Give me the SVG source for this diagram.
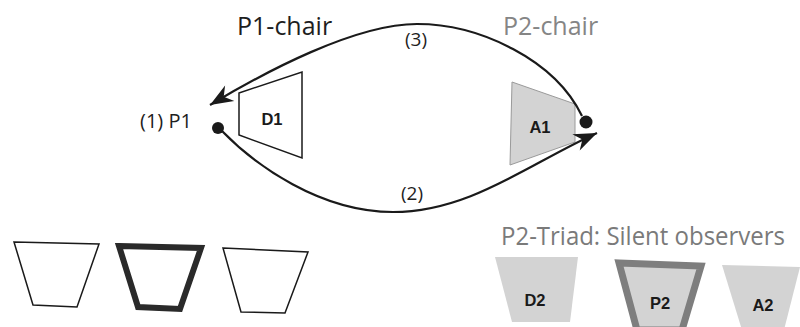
<svg xmlns="http://www.w3.org/2000/svg" width="800" height="327" viewBox="0 0 800 327">
  <style>
    .lbl { font-family: "Open Sans", "DejaVu Sans", sans-serif; fill: #1e1e1e; }
    .gray { fill: #858585; }
    .bold { font-family: "Liberation Sans", Arial, sans-serif; font-weight: bold; font-size: 16.5px; fill: #1a1a1a; text-anchor: middle; }
    .conn { fill: none; stroke: #1a1a1a; stroke-width: 2.2; }
    .open { fill: #ffffff; stroke: #1a1a1a; stroke-width: 1.5; stroke-linejoin: miter; }
    .shade { fill: #d3d3d3; }
  </style>
  <defs>
    <marker id="arrow" markerUnits="userSpaceOnUse" orient="auto" viewBox="-24 -10 26 20" markerWidth="26" markerHeight="20" refX="0" refY="0">
      <path d="M0,0 L-23,-9 L-16,0 L-23,9 Z" fill="#1a1a1a"/>
    </marker>
  </defs>
  <rect width="800" height="327" fill="#ffffff"/>

  <g id="node-D1">
    <polygon class="open" points="239,93 302,72 302,158 239,135"/>
    <text class="bold" x="272" y="125">D1</text>
  </g>
  <g id="node-A1">
    <polygon class="shade" points="512,82 575,104 575,142 510,165" stroke="#9a9a9a" stroke-width="1"/>
    <text class="bold" x="540" y="133">A1</text>
  </g>
  <g id="node-P1">
    <circle cx="218" cy="128" r="6" fill="#1a1a1a"/>
    <text class="lbl" x="140" y="128" font-size="20">(1) P1</text>
  </g>
  <g id="node-P2dot">
    <circle cx="586" cy="122" r="6.5" fill="#1a1a1a"/>
  </g>

  <g id="connectors">
    <path class="conn" d="M582,116 C555,60 480,24 417,24 C355,24 265,72 210,105" marker-end="url(#arrow)"/>
    <path class="conn" d="M222,131 C255,165 320,212 393,212 C470,212 530,163 597,133" marker-end="url(#arrow)"/>
  </g>

  <g id="labels">
    <text class="lbl" x="237" y="35" font-size="25">P1-chair</text>
    <text class="lbl gray" x="503" y="35" font-size="25">P2-chair</text>
    <text class="lbl" x="416" y="46" font-size="19" text-anchor="middle">(3)</text>
    <text class="lbl" x="412" y="200" font-size="19" text-anchor="middle">(2)</text>
  </g>

  <g id="triad-P1">
    <polygon class="open" points="14,242 99,244 77,307 33,305"/>
    <polygon points="119,246 201,248 180,309 138,307" fill="#ffffff" stroke="#2a2a2a" stroke-width="6" stroke-linejoin="miter"/>
    <polygon class="open" points="223,248 308,252 285,313 241,312"/>
  </g>

  <g id="triad-P2">
    <text class="lbl" x="501" y="245" font-size="25" textLength="284" lengthAdjust="spacingAndGlyphs" style="fill:#7a7a7a">P2-Triad: Silent observers</text>
    <g id="node-D2">
      <polygon class="shade" points="495,257 578,257 570,322 512,322"/>
      <text class="bold" x="535" y="306">D2</text>
    </g>
    <g id="node-P2">
      <polygon points="619,263 701,266 682,330 637,330" fill="#d3d3d3" stroke="#7e7e7e" stroke-width="7" stroke-linejoin="miter"/>
      <text class="bold" x="660" y="309">P2</text>
    </g>
    <g id="node-A2">
      <polygon class="shade" points="722,265 800,267 784,330 742,330"/>
      <text class="bold" x="763" y="311">A2</text>
    </g>
  </g>
</svg>
